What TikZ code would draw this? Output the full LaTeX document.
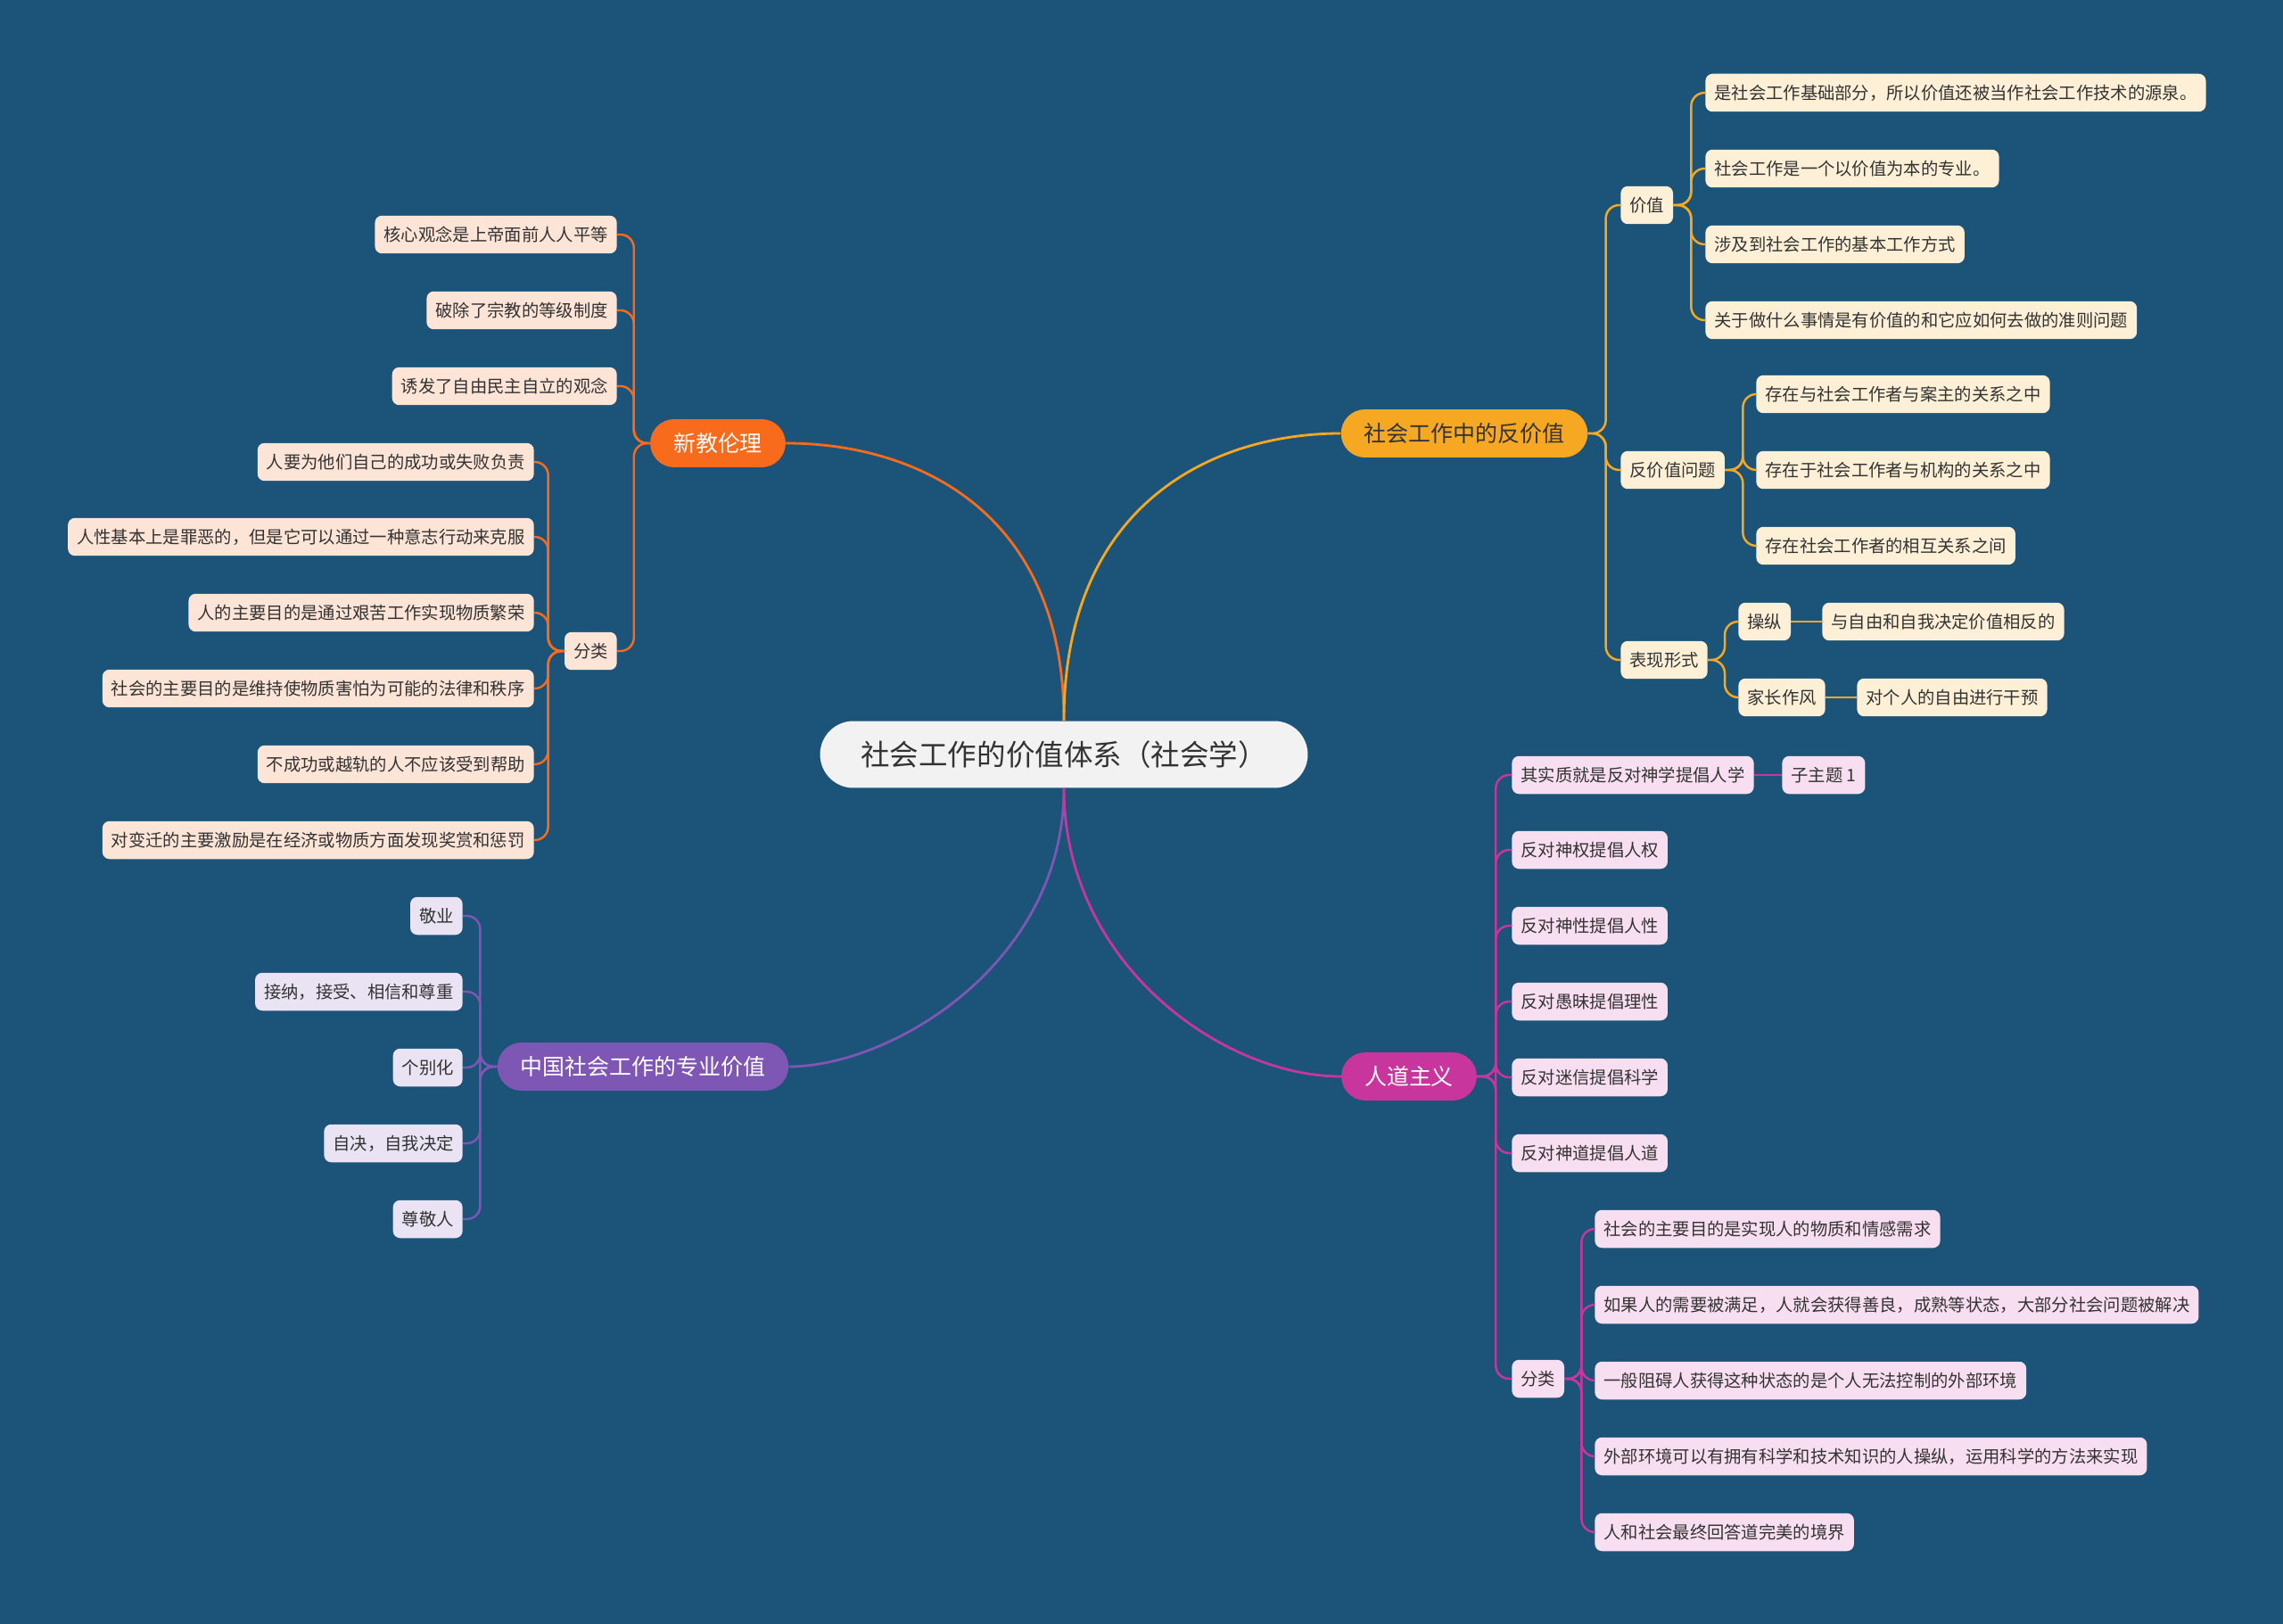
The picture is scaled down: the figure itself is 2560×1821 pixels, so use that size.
\documentclass[tikz,border=0pt]{standalone}
\usepackage{fontspec}
\setmainfont{Noto Sans CJK SC}
\usepackage{xcolor}
\usepackage{tikz}
\usetikzlibrary{positioning}

\definecolor{bgblue}{HTML}{1B5478}
\definecolor{ink}{HTML}{333333}
\definecolor{rootgray}{HTML}{F2F2F2}
\definecolor{cXj}{HTML}{F86A1C}
\definecolor{cXjLeaf}{HTML}{FCE4D6}
\definecolor{cFj}{HTML}{F7A823}
\definecolor{cFjLeaf}{HTML}{FDF0D6}
\definecolor{cZg}{HTML}{7E56B4}
\definecolor{cZgLeaf}{HTML}{E9E3F3}
\definecolor{cRd}{HTML}{C8369D}
\definecolor{cRdLeaf}{HTML}{F7DFF1}

\begin{document}
\begin{tikzpicture}[x=0.02cm, y=-0.02cm,
    root/.style={rounded corners=0.75cm, fill=rootgray, text=ink, minimum height=1.5cm, minimum width=10.94cm, font=\fontsize{18.5}{22}\selectfont},
    topic/.style={rounded corners=0.54cm, minimum height=1.08cm, inner xsep=0.52cm, text=white, font=\fontsize{14.2}{17}\selectfont},
    leaf/.style={rounded corners=0.16cm, minimum height=0.85cm, inner xsep=0.2cm, text=ink, font=\fontsize{11}{13}\selectfont},
    lxj/.style={leaf, fill=cXjLeaf, anchor=east},
    rfj/.style={leaf, fill=cFjLeaf, anchor=west},
    lzg/.style={leaf, fill=cZgLeaf, anchor=east},
    rrd/.style={leaf, fill=cRdLeaf, anchor=west},
    main/.style={line width=1.6pt},
    sub/.style={line width=1.4pt, rounded corners=0.3cm},
]
    \fill[bgblue] (0,0) rectangle (2560,1821);
    \useasboundingbox (0,0) rectangle (2560,1821);

    \node[root] (root) at (1193,846) {社会工作的价值体系（社会学）};

    \node[topic, fill=cXj] (xj) at (805,497) {新教伦理};
    \node[topic, fill=cFj, text=ink] (fj) at (1642,486) {社会工作中的反价值};
    \node[topic, fill=cZg] (zg) at (721,1196) {中国社会工作的专业价值};
    \node[topic, fill=cRd] (rd) at (1580,1207) {人道主义};

    \draw[main, cXj] (root.north) .. controls (1193,575) and (1030,497) .. (xj.east);
    \draw[main, cFj] (root.north) .. controls (1193,565) and (1360,486) .. (fj.west);
    \draw[main, cZg] (root.south) .. controls (1193,1080) and (1000,1196) .. (zg.east);
    \draw[main, cRd] (root.south) .. controls (1193,1080) and (1370,1207) .. (rd.west);

    % 新教伦理
    \node[lxj] (xj1) at (692,263) {核心观念是上帝面前人人平等};
    \node[lxj] (xj2) at (692,348) {破除了宗教的等级制度};
    \node[lxj] (xj3) at (692,433) {诱发了自由民主自立的观念};
    \node[lxj] (xjf) at (692,730) {分类};
    \node[lxj] (xjf1) at (599,518) {人要为他们自己的成功或失败负责};
    \node[lxj] (xjf2) at (599,602) {人性基本上是罪恶的，但是它可以通过一种意志行动来克服};
    \node[lxj] (xjf3) at (599,687) {人的主要目的是通过艰苦工作实现物质繁荣};
    \node[lxj] (xjf4) at (599,772) {社会的主要目的是维持使物质害怕为可能的法律和秩序};
    \node[lxj] (xjf5) at (599,857) {不成功或越轨的人不应该受到帮助};
    \node[lxj] (xjf6) at (599,942) {对变迁的主要激励是在经济或物质方面发现奖赏和惩罚};
    \foreach \c in {xj1,xj2,xj3,xjf}
        \draw[sub, cXj] (xj.west) -- ++(-18,0) |- (\c.east);
    \foreach \c in {xjf1,xjf2,xjf3,xjf4,xjf5,xjf6}
        \draw[sub, cXj] (xjf.west) -- ++(-18,0) |- (\c.east);

    % 社会工作中的反价值
    \node[rfj] (fjv) at (1817,230) {价值};
    \node[rfj] (fjw) at (1817,527) {反价值问题};
    \node[rfj] (fjb) at (1817,740) {表现形式};
    \node[rfj] (fjv1) at (1912,104) {是社会工作基础部分，所以价值还被当作社会工作技术的源泉。};
    \node[rfj] (fjv2) at (1912,189) {社会工作是一个以价值为本的专业。};
    \node[rfj] (fjv3) at (1912,274) {涉及到社会工作的基本工作方式};
    \node[rfj] (fjv4) at (1912,359) {关于做什么事情是有价值的和它应如何去做的准则问题};
    \node[rfj] (fjw1) at (1969,442) {存在与社会工作者与案主的关系之中};
    \node[rfj] (fjw2) at (1969,527) {存在于社会工作者与机构的关系之中};
    \node[rfj] (fjw3) at (1969,612) {存在社会工作者的相互关系之间};
    \node[rfj] (fjb1) at (1949,697) {操纵};
    \node[rfj] (fjb2) at (1949,782) {家长作风};
    \node[rfj] (fjb1a) at (2043,697) {与自由和自我决定价值相反的};
    \node[rfj] (fjb2a) at (2082,782) {对个人的自由进行干预};
    \foreach \c in {fjv,fjw,fjb}
        \draw[sub, cFj] (fj.east) -- ++(20,0) |- (\c.west);
    \foreach \c in {fjv1,fjv2,fjv3,fjv4}
        \draw[sub, cFj] (fjv.east) -- ++(20,0) |- (\c.west);
    \foreach \c in {fjw1,fjw2,fjw3}
        \draw[sub, cFj] (fjw.east) -- ++(20,0) |- (\c.west);
    \foreach \c in {fjb1,fjb2}
        \draw[sub, cFj] (fjb.east) -- ++(19,0) |- (\c.west);
    \draw[sub, cFj] (fjb1) -- (fjb1a);
    \draw[sub, cFj] (fjb2) -- (fjb2a);

    % 中国社会工作的专业价值
    \node[lzg] (zg1) at (519,1027) {敬业};
    \node[lzg] (zg2) at (519,1112) {接纳，接受、相信和尊重};
    \node[lzg] (zg3) at (519,1197) {个别化};
    \node[lzg] (zg4) at (519,1282) {自决，自我决定};
    \node[lzg] (zg5) at (519,1367) {尊敬人};
    \foreach \c in {zg1,zg2,zg3,zg4,zg5}
        \draw[sub, cZg] (zg.west) -- ++(-19,0) |- (\c.east);

    % 人道主义
    \node[rrd] (rd1) at (1695,869) {其实质就是反对神学提倡人学};
    \node[rrd] (rd1a) at (1998,869) {子主题 1};
    \node[rrd] (rd2) at (1695,953) {反对神权提倡人权};
    \node[rrd] (rd3) at (1695,1038) {反对神性提倡人性};
    \node[rrd] (rd4) at (1695,1123) {反对愚昧提倡理性};
    \node[rrd] (rd5) at (1695,1208) {反对迷信提倡科学};
    \node[rrd] (rd6) at (1695,1293) {反对神道提倡人道};
    \node[rrd] (rdf) at (1695,1546) {分类};
    \node[rrd] (rdf1) at (1788,1378) {社会的主要目的是实现人的物质和情感需求};
    \node[rrd] (rdf2) at (1788,1463) {如果人的需要被满足，人就会获得善良，成熟等状态，大部分社会问题被解决};
    \node[rrd] (rdf3) at (1788,1548) {一般阻碍人获得这种状态的是个人无法控制的外部环境};
    \node[rrd] (rdf4) at (1788,1633) {外部环境可以有拥有科学和技术知识的人操纵，运用科学的方法来实现};
    \node[rrd] (rdf5) at (1788,1718) {人和社会最终回答道完美的境界};
    \foreach \c in {rd1,rd2,rd3,rd4,rd5,rd6,rdf}
        \draw[sub, cRd] (rd.east) -- ++(21,0) |- (\c.west);
    \draw[sub, cRd] (rd1) -- (rd1a);
    \foreach \c in {rdf1,rdf2,rdf3,rdf4,rdf5}
        \draw[sub, cRd] (rdf.east) -- ++(19,0) |- (\c.west);
\end{tikzpicture}
\end{document}
